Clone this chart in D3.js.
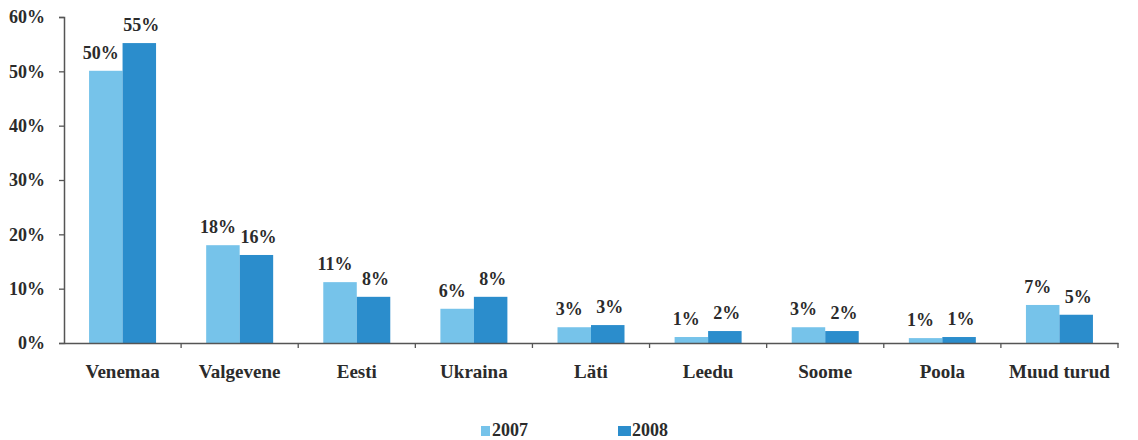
<!DOCTYPE html>
<html>
<head>
<meta charset="utf-8">
<script src="https://cdn.jsdelivr.net/npm/d3@7"></script>
<style>
html,body{margin:0;padding:0;background:#fff;}
svg text{font-family:"Liberation Serif","Times New Roman",serif;font-weight:bold;fill:#2b2b2b;}
</style>
</head>
<body>
<svg id="chart" width="1138" height="440"></svg>
<script>
const categories = ["Venemaa","Valgevene","Eesti","Ukraina","Läti","Leedu","Soome","Poola","Muud turud"];
const seriesNames = ["2007","2008"];
const values2007 = [50.1,18.0,11.2,6.3,2.9,1.1,2.9,0.9,7.0];
const values2008 = [55.2,16.2,8.5,8.5,3.3,2.2,2.2,1.1,5.2];
const labels2007 = ["50%","18%","11%","6%","3%","1%","3%","1%","7%"];
const labels2008 = ["55%","16%","8%","8%","3%","2%","2%","1%","5%"];
const yTicks = [0,10,20,30,40,50,60];
const colors = ["#76c3ea","#2b8dcc"];

(function(){
const svg = d3.select("#chart");
const mLeft = 64, mRight = 1118, mTop = 17, mBottom = 343;

const x = d3.scaleBand().domain(categories).range([mLeft,mRight]).paddingInner(0).paddingOuter(0);
const y = d3.scaleLinear().domain([0,60]).range([mBottom,mTop]);
const barW = 33.5;
const xs = d3.scaleBand().domain(seriesNames).range([0,barW*2]);

const series = [
  {name:"2007", vals:values2007, labels:labels2007},
  {name:"2008", vals:values2008, labels:labels2008}
];

series.forEach((s,si)=>{
  const g = svg.append("g");
  g.selectAll("rect").data(categories).join("rect")
    .attr("x", c => x(c) + x.bandwidth()/2 - barW + xs(s.name))
    .attr("y", (c,i) => y(s.vals[i]))
    .attr("width", xs.bandwidth())
    .attr("height", (c,i) => y(0) - y(s.vals[i]))
    .attr("fill", colors[si]);
  g.selectAll("text").data(categories).join("text")
    .attr("x", c => x(c) + x.bandwidth()/2 - barW + xs(s.name) + xs.bandwidth()/2 + (si===0?-5:2))
    .attr("y", (c,i) => y(s.vals[i]) - 12)
    .attr("text-anchor","middle")
    .attr("font-size","18px")
    .text((c,i)=>s.labels[i]);
});

const yAxis = d3.axisLeft(y).tickValues(yTicks).tickFormat(d => d + "%").tickSize(5).tickPadding(14);
const ya = svg.append("g").attr("transform",`translate(${mLeft},0)`).call(yAxis);
ya.select(".domain").attr("stroke","#555").attr("stroke-width",1.5);
ya.selectAll(".tick line").attr("stroke","#555").attr("stroke-width",1.3);
ya.selectAll(".tick text").attr("font-size","18px").style("font-family","Liberation Serif, serif").style("font-weight","bold").attr("fill","#2b2b2b");

const xAxis = d3.axisBottom(x).tickSize(0).tickPadding(0).tickFormat("");
const xa = svg.append("g").attr("transform",`translate(0,${mBottom})`).call(xAxis);
xa.select(".domain").attr("stroke","#555").attr("stroke-width",1.5);
const boundaries = categories.map(c => x(c) + x.bandwidth());
xa.selectAll("line.bt").data(boundaries).join("line").attr("class","bt")
  .attr("x1",d=>d).attr("x2",d=>d).attr("y1",0).attr("y2",5)
  .attr("stroke","#555").attr("stroke-width",1.3);
svg.append("g").selectAll("text").data(categories).join("text")
  .attr("x", c => x(c) + x.bandwidth()/2)
  .attr("y", 378)
  .attr("text-anchor","middle")
  .attr("font-size","19px")
  .text(c => c);

const legendX = [481, 618];
const lg = svg.append("g");
seriesNames.forEach((n,i)=>{
  lg.append("rect").attr("x",legendX[i]).attr("y",426).attr("width",i===0?9:13).attr("height",10).attr("fill",colors[i]);
  lg.append("text").attr("x",legendX[i] + (i===0?11:14)).attr("y",436).attr("font-size","18px").text(n);
});
})();
</script>
</body>
</html>
